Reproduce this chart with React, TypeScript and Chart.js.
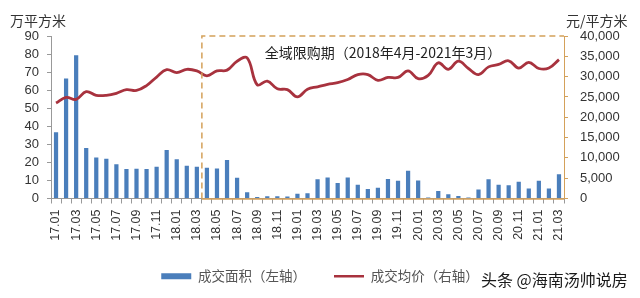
import React, { useEffect, useRef } from "react";
import { Chart, registerables } from "chart.js";
Chart.register(...registerables);

const labels = [
  "17.01","17.02","17.03","17.04","17.05","17.06","17.07","17.08","17.09","17.10","17.11","17.12",
  "18.01","18.02","18.03","18.04","18.05","18.06","18.07","18.08","18.09","18.10","18.11","18.12",
  "19.01","19.02","19.03","19.04","19.05","19.06","19.07","19.08","19.09","19.10","19.11","19.12",
  "20.01","20.02","20.03","20.04","20.05","20.06","20.07","20.08","20.09","20.10","20.11","20.12",
  "21.01","21.02","21.03",
];

// 成交面积 (万平方米, left axis)
const areaValues = [
  36.7, 66.4, 79.4, 28.0, 22.7, 22.0, 19.0, 16.3, 16.5, 16.4, 17.6, 26.8,
  21.7, 18.1, 17.6, 17.0, 16.6, 21.3, 11.5, 3.4, 0.8, 1.2, 1.3, 1.1,
  2.6, 2.9, 10.6, 11.7, 8.6, 11.7, 7.6, 5.2, 6.0, 10.8, 9.9, 15.4,
  10.0, 0.5, 4.1, 2.3, 1.4, 0.6, 5.0, 10.6, 7.6, 7.3, 9.3, 5.6,
  9.8, 5.6, 13.5,
];

// 成交均价 (元/平方米, right axis)
const priceValues = [
  23500, 24900, 24400, 26300, 25400, 25400, 25900, 26800, 26600, 27800, 29900, 31700,
  31000, 31800, 31400, 30200, 31400, 31600, 33800, 34600, 28000, 28900, 27000, 26800,
  25000, 26900, 27500, 28100, 28500, 29300, 30500, 30500, 29100, 29800, 29800, 31400,
  29500, 30300, 33400, 31800, 33800, 32000, 30500, 32400, 33000, 33900, 32100, 33500,
  32000, 32100, 34200,
];

const areaName = "成交面积（左轴）";
const priceName = "成交均价（右轴）";
const leftTitle = "万平方米";
const rightTitle = "元/平方米";
const periodText = "全域限购期（2018年4月-2021年3月）";
const watermark = "头条 @海南汤帅说房";
const periodStartIndex = 15; // 18.04

const BAR = "#4A7EBB";
const LINE = "#A8323E";
const FRAME = "#D4A15A";
const CJK = "'Noto Sans CJK SC', 'Liberation Sans', sans-serif";
const NUM = "'Liberation Sans', 'Noto Sans CJK SC', sans-serif";

const overlay = {
  id: "overlay",
  afterDraw(chart: any) {
    const { ctx, chartArea, scales } = chart;
    const x = scales.x;
    const yL = scales.yL;
    const left = (x.getPixelForValue(periodStartIndex - 1) + x.getPixelForValue(periodStartIndex)) / 2;
    const top = yL.getPixelForValue(90);
    const right = chartArea.right;
    const bottom = chartArea.bottom;
    ctx.save();
    ctx.strokeStyle = FRAME;
    ctx.lineWidth = 1.5;
    ctx.setLineDash([6, 4]);
    ctx.beginPath();
    ctx.moveTo(left, bottom);
    ctx.lineTo(left, top);
    ctx.lineTo(right, top);
    ctx.stroke();
    ctx.setLineDash([]);
    ctx.beginPath();
    ctx.moveTo(left, bottom + 0.5);
    ctx.lineTo(right, bottom + 0.5);
    ctx.stroke();

    ctx.fillStyle = "#222";
    ctx.font = `14px ${CJK}`;
    ctx.textAlign = "center";
    ctx.textBaseline = "middle";
    ctx.fillText(periodText, (left + right) / 2, top + 17);

    ctx.fillStyle = "#333";
    ctx.font = `14px ${CJK}`;
    ctx.textAlign = "left";
    ctx.fillText(leftTitle, 10, 21);
    ctx.fillText(rightTitle, 566, 21);

    ctx.fillStyle = "#1a1a1a";
    ctx.font = `16px ${CJK}`;
    ctx.fillText(watermark, 481, 280);
    ctx.restore();
  },
};

export default function App() {
  const ref = useRef<HTMLCanvasElement | null>(null);
  useEffect(() => {
    if (!ref.current) return;
    const chart = new Chart(ref.current, {
      type: "bar",
      data: {
        labels,
        datasets: [
          {
            type: "line",
            label: priceName,
            data: priceValues,
            yAxisID: "yR",
            borderColor: LINE,
            backgroundColor: LINE,
            borderWidth: 2.8,
            pointRadius: 0,
            tension: 0.4,
            order: 0,
          } as any,
          {
            type: "bar",
            label: areaName,
            data: areaValues,
            yAxisID: "yL",
            backgroundColor: BAR,
            categoryPercentage: 1,
            barPercentage: 0.42,
            order: 1,
          } as any,
        ],
      },
      options: {
        responsive: false,
        animation: false,
        layout: { padding: { top: 36, bottom: 5, left: 0, right: 0 } },
        plugins: {
          tooltip: { enabled: false },
          legend: {
            position: "bottom",
            labels: {
              usePointStyle: true,
              pointStyleWidth: 30,
              boxHeight: 6,
              padding: 28,
              color: "#555",
              font: { size: 13.5, family: CJK },
              generateLabels: () => [
                { text: areaName, fillStyle: BAR, strokeStyle: BAR, lineWidth: 0, pointStyle: "rect", datasetIndex: 1, hidden: false, fontColor: "#555" },
                { text: priceName, fillStyle: LINE, strokeStyle: LINE, lineWidth: 2.5, pointStyle: "line", datasetIndex: 0, hidden: false, fontColor: "#555" },
              ] as any,
            },
          },
        },
        scales: {
          x: {
            offset: true,
            grid: { display: true, drawOnChartArea: false, offset: true, tickLength: 5, color: "#999" },
            border: { color: "#999" },
            ticks: {
              autoSkip: false,
              minRotation: 90,
              maxRotation: 90,
              padding: 6,
              color: "#333",
              font: { size: 12.5, family: NUM },
              callback: (_v: any, i: number) => (i % 2 === 0 ? labels[i] : ""),
            },
            afterFit: (s: any) => { s.height = 43; },
          },
          yL: {
            position: "left",
            min: 0,
            max: 90,
            ticks: { stepSize: 10, autoSkip: false, color: "#333", padding: 8, font: { size: 13, family: NUM } },
            grid: { drawOnChartArea: false, tickLength: 4, color: "#999" },
            border: { color: "#999" },
            afterFit: (s: any) => { s.width = 51; },
          },
          yR: {
            position: "right",
            min: 0,
            max: 40000,
            ticks: { stepSize: 5000, autoSkip: false, color: "#333", padding: 12, font: { size: 13, family: NUM } },
            grid: { drawOnChartArea: false, tickLength: 4, color: FRAME },
            border: { color: FRAME },
            afterFit: (s: any) => { s.width = 76; },
          },
        },
      },
      plugins: [overlay],
    });
    return () => chart.destroy();
  }, []);
  return (
    <div style={{ position: "absolute", left: 0, top: 0, width: 640, height: 298, background: "#fff" }}>
      <canvas ref={ref} width={640} height={298} style={{ width: 640, height: 298, display: "block" }} />
    </div>
  );
}
